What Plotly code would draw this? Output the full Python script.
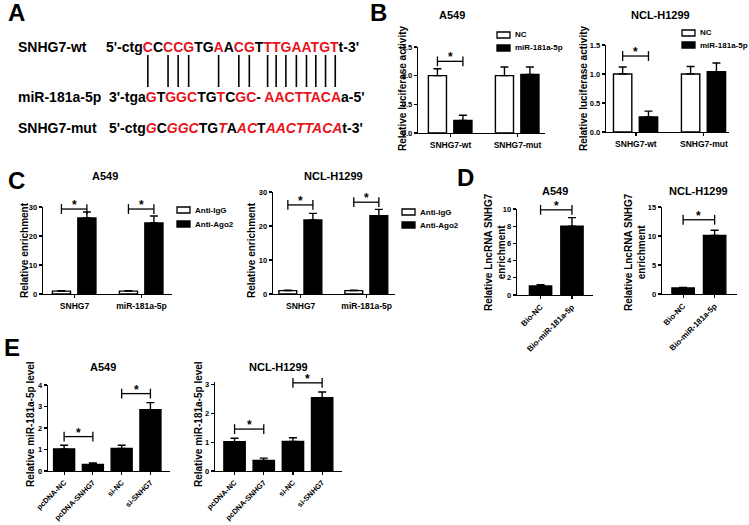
import plotly.graph_objects as go

# ---------------- DATA ----------------
B_groups = ["SNHG7-wt", "SNHG7-mut"]
B_series = ["NC", "miR-181a-5p"]
B_A549_NC = [1.00, 1.00]
B_A549_NC_err = [0.12, 0.15]
B_A549_miR = [0.22, 1.02]
B_A549_miR_err = [0.09, 0.13]
B_H1299_NC = [1.00, 1.00]
B_H1299_NC_err = [0.12, 0.13]
B_H1299_miR = [0.26, 1.04]
B_H1299_miR_err = [0.10, 0.15]
B_A549_sig = [1.25]
B_H1299_sig = [1.31]

C_groups = ["SNHG7", "miR-181a-5p"]
C_series = ["Anti-IgG", "Anti-Ago2"]
C_A549_IgG = [1.0, 1.0]
C_A549_IgG_err = [0.1, 0.1]
C_A549_Ago2 = [26.2, 24.5]
C_A549_Ago2_err = [2.1, 2.4]
C_H1299_IgG = [1.0, 1.0]
C_H1299_IgG_err = [0.1, 0.1]
C_H1299_Ago2 = [21.8, 23.0]
C_H1299_Ago2_err = [1.9, 1.9]
C_A549_sig = [29.3, 29.3]
C_H1299_sig = [26.2, 27.0]

D_cats = ["Bio-NC", "Bio-miR-181a-5p"]
D_A549 = [1.05, 8.0]
D_A549_err = [0.15, 1.0]
D_H1299 = [1.05, 10.1]
D_H1299_err = [0.1, 0.9]
D_A549_sig = [9.9]
D_H1299_sig = [12.8]

E_cats = ["pcDNA-NC", "pcDNA-SNHG7", "si-NC", "si-SNHG7"]
E_A549 = [1.03, 0.30, 1.05, 2.85]
E_A549_err = [0.17, 0.07, 0.15, 0.33]
E_H1299 = [1.02, 0.37, 1.03, 2.55]
E_H1299_err = [0.12, 0.08, 0.13, 0.20]
E_A549_sig = [1.6, 3.6]
E_H1299_sig = [1.46, 3.07]

cells = ["A549", "NCL-H1299"]

# ---------------- STYLE / LAYOUT HELPERS ----------------
W, H = 749, 525
FONT = "Arial, Liberation Sans, sans-serif"
RED = "#e8141b"


def px(x):
    return x / W


def py(y):
    return 1 - y / H


fig = go.Figure()
annotations = []
shapes = []


def text(x, y, s, size, anchor="center", angle=0, vanchor="middle", color="black"):
    annotations.append(dict(
        x=px(x), y=py(y), xref="paper", yref="paper", text=s, showarrow=False,
        xanchor=anchor, yanchor=vanchor, textangle=angle, borderpad=0, borderwidth=0,
        font=dict(family=FONT, size=size, color=color, weight="bold")))


def err(arr):
    return dict(type="data", array=arr, arrayminus=[0] * len(arr), symmetric=False,
                color="black", thickness=1.4, width=4)


def bar(ax, vals, errs, color, offset, width):
    xs = list(range(len(vals)))
    fig.add_trace(go.Bar(
        x=xs, y=vals, error_y=err(errs), offset=offset, width=width,
        marker=dict(color=color, line=dict(color="black", width=1.4)),
        xaxis="x" + ax, yaxis="y" + ax, showlegend=False, hoverinfo="skip"))


def bracket(ax, xa, xb, h):
    fig.add_trace(go.Scatter(
        x=[xa, xb], y=[h, h], mode="lines+markers", cliponaxis=False,
        line=dict(color="black", width=1.3),
        marker=dict(symbol="line-ns-open", size=7, line=dict(color="black", width=1.3)),
        xaxis="x" + ax, yaxis="y" + ax, showlegend=False, hoverinfo="skip"))
    annotations.append(dict(
        x=(xa + xb) / 2, y=h, xref="x" + ax, yref="y" + ax, text="*", showarrow=False,
        yanchor="bottom", yshift=-4, borderpad=0,
        font=dict(family=FONT, size=12, color="black", weight="bold")))


layout_axes = {}


def axes(ax, xd, yd, xr, yr, dtick, cats, fmt=None, angle=0, xfs=8.5):
    xid = "xaxis" + ("" if ax == "1" else ax)
    yid = "yaxis" + ("" if ax == "1" else ax)
    xa = "x" + ("" if ax == "1" else ax)
    ya = "y" + ("" if ax == "1" else ax)
    layout_axes[xid] = dict(
        domain=[px(xd[0]), px(xd[1])], range=list(xr), anchor=ya, automargin=False,
        tickmode="array", tickvals=list(range(len(cats))), ticktext=cats,
        showline=True, linecolor="black", linewidth=1.3, ticks="outside", ticklen=3,
        tickwidth=1.2, tickcolor="black", showgrid=False, zeroline=False,
        tickangle=angle, fixedrange=True,
        tickfont=dict(family=FONT, size=xfs, color="black", weight="bold"))
    ydict = dict(
        domain=[py(yd[1]), py(yd[0])], range=list(yr), anchor=xa, dtick=dtick, tick0=0,
        automargin=False,
        showline=True, linecolor="black", linewidth=1.3, ticks="outside", ticklen=3,
        tickwidth=1.2, tickcolor="black", showgrid=False, zeroline=False, fixedrange=True,
        tickfont=dict(family=FONT, size=7.5, color="black", weight="bold"))
    if fmt:
        ydict["tickformat"] = fmt
    layout_axes[yid] = ydict


def legend(x0, ys, labels):
    fills = ["white", "black"]
    for y, lab, f in zip(ys, labels, fills):
        shapes.append(dict(type="rect", xref="paper", yref="paper",
                           x0=px(x0), x1=px(x0 + 13), y0=py(y + 3), y1=py(y - 3),
                           fillcolor=f, line=dict(color="black", width=1.3)))
        text(x0 + 18, y, lab, 8, anchor="left")


# ---------------- PANEL A ----------------
text(16, 12, "A", 24)
text(379, 12, "B", 24)
text(16, 180, "C", 24)
text(465, 177, "D", 24)
text(12, 347, "E", 24)

wt_segments = [("5'-ctg", 0), ("C", 1), ("C", 0), ("CCG", 1), ("TG", 0), ("A", 1), ("A", 0),
               ("CG", 1), ("T", 0), ("TTGAATGT", 1), ("t-3'", 0)]
mir_segments = [("3'-tga", 0), ("G", 1), ("T", 0), ("GGC", 1), ("TG", 0), ("T", 1), ("C", 0),
                ("GC", 1), ("- ", 0), ("AACTTACA", 1), ("a-5'", 0)]
mut_segments = [("5'-ctg", 0), ("G", 1), ("C", 0), ("GGC", 1), ("TG", 0), ("T", 1), ("A", 0),
                ("AC", 1), ("T", 0), ("AACTTACA", 1), ("t-3'", 0)]


def seq_html(segs, italic=False):
    out = ""
    for s, red in segs:
        if red:
            inner = f"<i>{s}</i>" if italic else s
            out += f'<span style="color:{RED}">{inner}</span>'
        else:
            out += s
    return out


SEQ_SIZE = 14
text(18, 47, "SNHG7-wt", SEQ_SIZE, anchor="left")
text(18, 97, "miR-181a-5p", SEQ_SIZE, anchor="left")
text(18, 128, "SNHG7-mut", SEQ_SIZE, anchor="left")
X0_WT = 106
text(X0_WT, 47, seq_html(wt_segments), SEQ_SIZE, anchor="left")
text(X0_WT + 3, 97, seq_html(mir_segments), SEQ_SIZE, anchor="left")
text(X0_WT + 3, 128, seq_html(mut_segments, italic=True), SEQ_SIZE, anchor="left")

# pairing lines, placed at the paired letters of the wt sequence (Arial Bold advance widths)
ADV = {"5": 556, "'": 238, "-": 333, "c": 556, "t": 333, "g": 611, "C": 722, "G": 778,
       "T": 611, "A": 722, "a": 556, "3": 556, " ": 278}
cur = X0_WT
for s, red in wt_segments:
    for ch in s:
        w = ADV[ch] / 1000 * SEQ_SIZE
        if red:
            c = cur + w / 2
            shapes.append(dict(type="line", xref="paper", yref="paper",
                               x0=px(c), x1=px(c), y0=py(55), y1=py(87),
                               line=dict(color="black", width=1.6)))
        cur += w

# ---------------- PANEL B ----------------
WO, BO, BW = -0.33, 0.05, 0.27
bar("", B_A549_NC, B_A549_NC_err, "white", WO, BW)
bar("", B_A549_miR, B_A549_miR_err, "black", BO, BW)
bracket("", WO + BW / 2, BO + BW / 2, B_A549_sig[0])
axes("1", (418, 545), (47, 133), (-0.485, 1.41), (0, 1.5), 0.5, B_groups, fmt=".1f")

bar("2", B_H1299_NC, B_H1299_NC_err, "white", WO, BW)
bar("2", B_H1299_miR, B_H1299_miR_err, "black", BO, BW)
bracket("2", WO + BW / 2, BO + BW / 2, B_H1299_sig[0])
axes("2", (606, 729), (45, 132), (-0.44, 1.37), (0, 1.5), 0.5, B_groups, fmt=".1f")

text(452, 15, cells[0], 11)
text(660, 15, cells[1], 11)
text(403, 88, "Relative luciferase activity", 10, angle=-90)
text(584, 88, "Relative luciferase activity", 10, angle=-90)
legend(497, [35, 48], B_series)
legend(682, [33, 45], B_series)

# ---------------- PANEL C ----------------
bar("3", C_A549_IgG, C_A549_IgG_err, "white", WO, BW)
bar("3", C_A549_Ago2, C_A549_Ago2_err, "black", BO, BW)
for i, h in enumerate(C_A549_sig):
    bracket("3", i + WO + BW / 2, i + BO + BW / 2, h)
axes("3", (43, 172), (207, 294), (-0.47, 1.455), (0, 30), 10, C_groups)

bar("4", C_H1299_IgG, C_H1299_IgG_err, "white", WO, BW)
bar("4", C_H1299_Ago2, C_H1299_Ago2_err, "black", BO, BW)
for i, h in enumerate(C_H1299_sig):
    bracket("4", i + WO + BW / 2, i + BO + BW / 2, h)
axes("4", (273, 395), (192, 294), (-0.42, 1.43), (0, 30), 10, C_groups)

text(105, 176, cells[0], 11)
text(333, 176, cells[1], 11)
text(24, 250, "Relative enrichment", 10, angle=-90)
text(251, 250, "Relative enrichment", 10, angle=-90)
legend(177, [210, 224], C_series)
legend(402, [212, 225], C_series)

# ---------------- PANEL D ----------------
DW = 0.71
bar("5", D_A549, D_A549_err, "black", -DW / 2, DW)
bracket("5", 0, 1, D_A549_sig[0])
axes("5", (517, 593), (209, 295), (-0.75, 1.67), (0, 10), 2, D_cats, angle=-45, xfs=8)

bar("6", D_H1299, D_H1299_err, "black", -DW / 2, DW)
bracket("6", 0, 1, D_H1299_sig[0])
axes("6", (662, 737), (207, 294), (-0.67, 1.71), (0, 15), 5, D_cats, angle=-45, xfs=8)

text(555, 191, cells[0], 11)
text(698, 191, cells[1], 11)
text(495, 252, "Relative LncRNA SNHG7<br>enrichment", 10, angle=-90)
text(635, 252, "Relative LncRNA SNHG7<br>enrichment", 10, angle=-90)

# ---------------- PANEL E ----------------
EW = 0.73
bar("7", E_A549, E_A549_err, "black", -EW / 2, EW)
bracket("7", 0, 1, E_A549_sig[0])
bracket("7", 2, 3, E_A549_sig[1])
axes("7", (48, 170), (385, 471), (-0.56, 3.68), (0, 4), 1, E_cats, angle=-45, xfs=7.5)

bar("8", E_H1299, E_H1299_err, "black", -EW / 2, EW)
bracket("8", 0, 1, E_H1299_sig[0])
bracket("8", 2, 3, E_H1299_sig[1])
# axis top set slightly above 3 so the upper bracket stays inside the drawable range
axes("8", (215, 342), (382, 471), (-0.67, 3.68), (0, 3.1), 1, E_cats, angle=-45, xfs=7.5)

text(103, 367, cells[0], 11)
text(278, 367, cells[1], 11)
text(30, 424, "Relative miR-181a-5p level", 10, angle=-90)
text(198, 424, "Relative miR-181a-5p level", 10, angle=-90)

fig.update_layout(
    template="none",
    width=W, height=H, margin=dict(l=0, r=0, t=0, b=0, autoexpand=False),
    paper_bgcolor="white", plot_bgcolor="white", barmode="overlay", showlegend=False,
    font=dict(family=FONT, color="black"),
    annotations=annotations, shapes=shapes, **layout_axes)

fig.write_html(
    "out.html",
    config={"displayModeBar": False, "staticPlot": True},
    post_script="document.body.style.margin='0';document.body.style.overflow='hidden';")
